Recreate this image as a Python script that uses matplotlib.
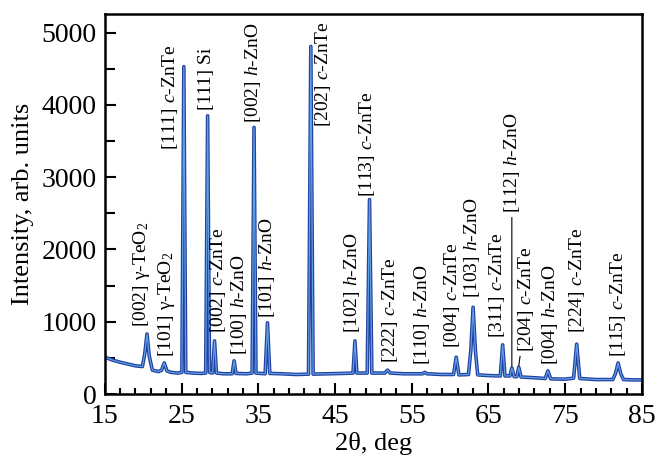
import matplotlib
matplotlib.use("Agg")
import matplotlib.pyplot as plt
from matplotlib.ticker import MultipleLocator

plt.rcParams['font.family'] = ['Liberation Serif', 'DejaVu Serif']
plt.rcParams['mathtext.fontset'] = 'custom'
plt.rcParams['mathtext.rm'] = 'Liberation Serif'
plt.rcParams['mathtext.it'] = 'Liberation Serif:italic'

# XRD-Profil: 2theta in Grad, Intensitaet
two_theta = [15.0, 16.0, 17.0, 18.0, 19.0, 19.9, 20.2, 20.5, 20.8, 21.2,
             22.0, 22.4, 22.75, 23.1, 23.6, 24.5, 25.05, 25.3, 25.55, 26.5,
             27.6, 28.15, 28.4, 28.65, 29.05, 29.3, 29.55, 30.5, 31.6, 31.85,
             32.1, 33.5, 34.2, 34.45, 34.7, 35.9, 36.2, 36.5, 38.0, 40.0,
             41.55, 41.85, 42.15, 44.0, 46.0, 47.35, 47.6, 47.85, 49.2, 49.5,
             49.8, 51.5, 51.85, 52.2, 54.0, 56.4, 56.7, 57.0, 59.0, 60.45,
             60.8, 61.15, 62.4, 62.7, 63.0, 63.3, 63.6, 65.0, 66.55, 66.85,
             67.15, 67.8, 68.05, 68.35, 68.7, 68.95, 69.25, 71.0, 72.4, 72.75,
             73.1, 75.0, 76.1, 76.5, 76.9, 79.0, 81.2, 81.55, 81.9, 82.25,
             82.6, 84.0, 85.0]
intensity = [510, 470, 440, 415, 390, 380, 550, 830, 520, 330,
             310, 330, 430, 320, 300, 290, 300, 4530, 300, 290,
             285, 290, 3850, 300, 290, 735, 290, 280, 280, 460,
             285, 280, 290, 3690, 290, 280, 985, 285, 280, 270,
             275, 4810, 275, 280, 285, 290, 735, 290, 290, 2690,
             290, 290, 330, 290, 280, 280, 300, 280, 270, 270,
             510, 265, 270, 600, 1200, 600, 265, 255, 250, 680,
             250, 250, 360, 240, 240, 370, 235, 225, 215, 320,
             210, 205, 220, 690, 215, 200, 200, 280, 430, 280,
             200, 195, 195]

# Reflexbeschriftungen
label_text = [r'[002] γ-TeO$_2$', r'[101] γ-TeO$_2$', r'[111] $\it{c}$-ZnTe',
              r'[111] Si', r'[002] $\it{c}$-ZnTe', r'[100] $\it{h}$-ZnO',
              r'[002] $\it{h}$-ZnO', r'[101] $\it{h}$-ZnO', r'[202] $\it{c}$-ZnTe',
              r'[102] $\it{h}$-ZnO', r'[113] $\it{c}$-ZnTe', r'[222] $\it{c}$-ZnTe',
              r'[110] $\it{h}$-ZnO', r'[004] $\it{c}$-ZnTe', r'[103] $\it{h}$-ZnO',
              r'[311] $\it{c}$-ZnTe', r'[004] $\it{h}$-ZnO', r'[224] $\it{c}$-ZnTe',
              r'[115] $\it{c}$-ZnTe']
label_x = [19.8, 23.1, 23.5, 28.3, 29.8, 32.5, 34.3, 36.1, 43.4,
           47.2, 49.2, 52.2, 56.3, 60.2, 62.8, 66.1, 73.0, 76.5, 81.9]
label_y = [930, 510, 3380, 3930, 840, 540, 3750, 1050, 3700,
           840, 2730, 430, 400, 640, 1330, 775, 400, 840, 510]

# Beschriftungen mit Hinweislinie
lead_text = [r'[112] $\it{h}$-ZnO', r'[204] $\it{c}$-ZnTe']
lead_x = [68.05, 69.85]
lead_y = [2500, 580]
lead_peak_x = [68.05, 68.95]
lead_peak_y = [380, 390]
lead_rel = [0.5, 0.25]

fig = plt.figure(figsize=(6.55, 4.59), dpi=100)
ax = fig.add_axes([0.160, 0.1416, 0.820, 0.828])

ax.plot(two_theta, intensity, color='#2140a0', lw=2.6, solid_joinstyle='round')
ax.plot(two_theta, intensity, color='#5f9fe3', lw=0.9, solid_joinstyle='round')

for t, x, y in zip(label_text, label_x, label_y):
    ax.text(x, y, t, rotation=90, ha='center', va='bottom', fontsize=14)

for t, x, y, px, py, r in zip(lead_text, lead_x, lead_y, lead_peak_x, lead_peak_y, lead_rel):
    ax.annotate(t, xy=(px, py), xytext=(x, y), rotation=90, ha='center',
                va='bottom', fontsize=14,
                arrowprops=dict(arrowstyle='-', color='black', lw=0.8,
                                shrinkA=1, shrinkB=0, relpos=(r, 0.0)))

ax.set_xlim(15, 85)
ax.set_ylim(0, 5260)
ax.xaxis.set_major_locator(MultipleLocator(10, offset=5))
ax.xaxis.set_minor_locator(MultipleLocator(2, offset=1))
ax.yaxis.set_major_locator(MultipleLocator(1000))
ax.yaxis.set_minor_locator(MultipleLocator(500))
ax.tick_params(which='both', direction='in', top=False, right=False,
               labelsize=20, width=1.5)
ax.tick_params(axis='x', pad=7)
ax.tick_params(axis='y', pad=6)
ax.tick_params(which='major', length=8)
ax.tick_params(axis='x', which='minor', length=4.5)
ax.tick_params(axis='y', which='minor', length=7)
for s in ax.spines.values():
    s.set_linewidth(1.8)

ax.set_xlabel('2θ, deg', fontsize=19, labelpad=2)
ax.set_ylabel('Intensity, arb. units', fontsize=19, labelpad=5)

fig.savefig('out.png', dpi=100)
